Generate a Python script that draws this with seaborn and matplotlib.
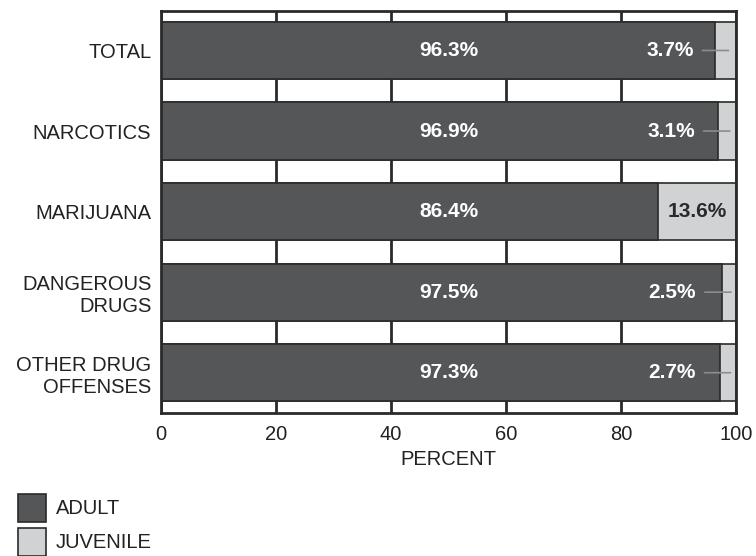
import matplotlib
matplotlib.use("Agg")
import matplotlib.pyplot as plt
import seaborn as sns
import pandas as pd
from matplotlib.patches import Rectangle

# --- data ---
categories = ["TOTAL", "NARCOTICS", "MARIJUANA", "DANGEROUS\nDRUGS", "OTHER DRUG\nOFFENSES"]
adult = [96.3, 96.9, 86.4, 97.5, 97.3]
juvenile = [3.7, 3.1, 13.6, 2.5, 2.7]
xticks = [0, 20, 40, 60, 80, 100]

ADULT_C = "#555658"
JUV_C = "#d1d2d4"
EDGE = "#2a2a2a"

sns.set_theme(style="white")
plt.rcParams["font.family"] = ["Liberation Sans", "DejaVu Sans"]

df = pd.DataFrame({"cat": categories, "adult": adult, "juvenile": juvenile})
df["total"] = df["adult"] + df["juvenile"]

fig = plt.figure(figsize=(7.56, 5.56), dpi=100)
ax = fig.add_axes([161 / 756, 1 - 413 / 556, 575 / 756, 402 / 556])

# vertical grid behind bars
ax.set_axisbelow(True)
ax.grid(axis="x", color=EDGE, linewidth=2)
ax.grid(axis="y", visible=False)

# stacked: full bar in juvenile colour, adult on top
sns.barplot(data=df, x="total", y="cat", color=JUV_C, orient="h", width=0.71,
            edgecolor=EDGE, linewidth=1.2, saturation=1, ax=ax)
sns.barplot(data=df, x="adult", y="cat", color=ADULT_C, orient="h", width=0.71,
            edgecolor=EDGE, linewidth=1.2, saturation=1, ax=ax)

ax.set_xlim(0, 100)
ax.set_ylim(4.5, -0.49)
ax.set_xticks(xticks)
ax.tick_params(axis="both", length=0, labelsize=14.5, colors="#222222")
ax.tick_params(axis="x", pad=9)
ax.tick_params(axis="y", pad=7)
for lbl in ax.get_yticklabels():
    lbl.set_horizontalalignment("right")
ax.set_ylabel("")
ax.set_xlabel("PERCENT", fontsize=14.5, color="#222222", labelpad=4)
for s in ax.spines.values():
    s.set_visible(True)
    s.set_color(EDGE)
    s.set_linewidth(2)

# value labels
for i, (a, j) in enumerate(zip(adult, juvenile)):
    ax.text(50, i, f"{a}%", ha="center", va="center", color="white",
            fontsize=15, fontweight="bold")
    if j > 8:
        ax.text(a + j / 2, i, f"{j}%", ha="center", va="center", color="#2a2a2a",
                fontsize=15, fontweight="bold")
    else:
        ax.annotate(f"{j}%", xy=(a + j * 0.65, i), xytext=(-35, 0),
                    textcoords="offset pixels", ha="right", va="center",
                    color="white", fontsize=15, fontweight="bold",
                    arrowprops=dict(arrowstyle="-", color="#8c8c8c", lw=1.2,
                                    shrinkA=4, shrinkB=0))

# legend
for k, (name, c) in enumerate([("ADULT", ADULT_C), ("JUVENILE", JUV_C)]):
    y0 = 1 - (522 + 34 * k) / 556
    fig.patches.append(Rectangle((18 / 756, y0), 28 / 756, 28 / 556,
                                 transform=fig.transFigure, facecolor=c,
                                 edgecolor=EDGE, linewidth=1.2))
    fig.text(56 / 756, y0 + 14 / 556, name, ha="left", va="center",
             fontsize=14.5, color="#222222")

fig.savefig("out.png", dpi=100)
